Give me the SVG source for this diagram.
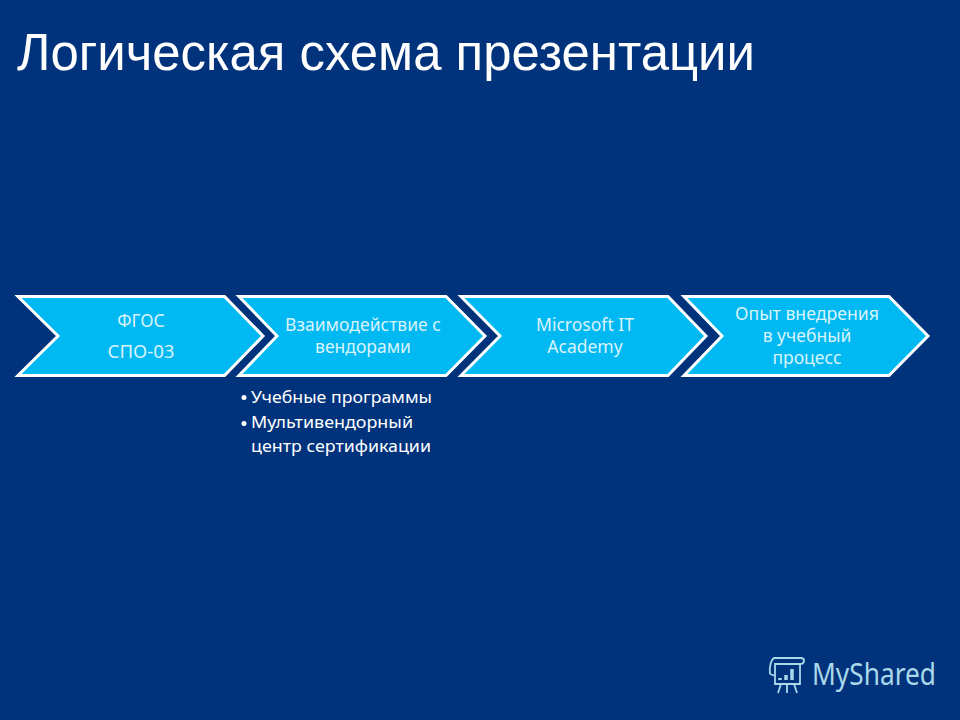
<svg xmlns="http://www.w3.org/2000/svg" width="960" height="720" viewBox="0 0 960 720">
<style>
.c{fill:#00b9f2;stroke:#fff;stroke-width:3;stroke-miterlimit:10}
.t{font-family:"Noto Sans","Open Sans",sans-serif;font-size:17.500px;fill:#d9f3fc;text-anchor:middle}
.b{font-family:"Noto Sans","Open Sans",sans-serif;font-size:17px;fill:#fff}
</style>
<rect width="960" height="720" fill="#00337c"/>
<text id="title" x="17" y="70" font-family="Liberation Sans, Arial, sans-serif" font-size="52" fill="#fff" textLength="738" lengthAdjust="spacingAndGlyphs">Логическая схема презентации</text>
<g id="n1"><path class="c" d="M18 296.500H224.500L263 336L224.500 375.500H18L58 336Z"/><text class="t" x="141" y="327">ФГОС</text><text class="t" x="141" y="358" textLength="67" lengthAdjust="spacingAndGlyphs">СПО-03</text></g>
<g id="n2"><path class="c" d="M239 296.500H446L485 336L446 375.500H239L277 336Z"/><text class="t" x="363" y="331" textLength="156" lengthAdjust="spacingAndGlyphs">Взаимодействие с</text><text class="t" x="363" y="353">вендорами</text></g>
<g id="n3"><path class="c" d="M461 296.500H668L706 336L668 375.500H461L500 336Z"/><text class="t" x="585" y="331" textLength="98" lengthAdjust="spacingAndGlyphs">Microsoft IT</text><text class="t" x="585" y="353">Academy</text></g>
<g id="n4"><path class="c" d="M684 296.500H889L928 336L889 375.500H684L722 336Z"/><text class="t" x="807" y="320" textLength="144" lengthAdjust="spacingAndGlyphs">Опыт внедрения</text><text class="t" x="807" y="342">в учебный</text><text class="t" x="807" y="364">процесс</text></g>
<g id="notes"><circle cx="244" cy="397.500" r="2.500" fill="#fff"/><text class="b" x="251" y="402.500" textLength="181" lengthAdjust="spacingAndGlyphs">Учебные программы</text><circle cx="244" cy="423.500" r="2.500" fill="#fff"/><text class="b" x="251" y="428" textLength="162" lengthAdjust="spacingAndGlyphs">Мультивендорный</text><text class="b" x="251" y="451.500" textLength="180" lengthAdjust="spacingAndGlyphs">центр сертификации</text></g>
<g id="logo" fill="none" stroke="#a9d8ea" stroke-width="1.800"><path d="M770 674C769 667 771 660 774 658H801C805 658 805 663 801 664H775V684H800V664M770 674L775 676M781 684L778 693M787 684V693M794 684L797 693"/><path d="M780 680V678M786 680V675M792 680V669" stroke-width="3.500"/><text x="812" y="685" font-family="Noto Sans, sans-serif" font-size="30" fill="#a9d8ea" stroke="none" textLength="124" lengthAdjust="spacingAndGlyphs">MyShared</text></g>
</svg>
